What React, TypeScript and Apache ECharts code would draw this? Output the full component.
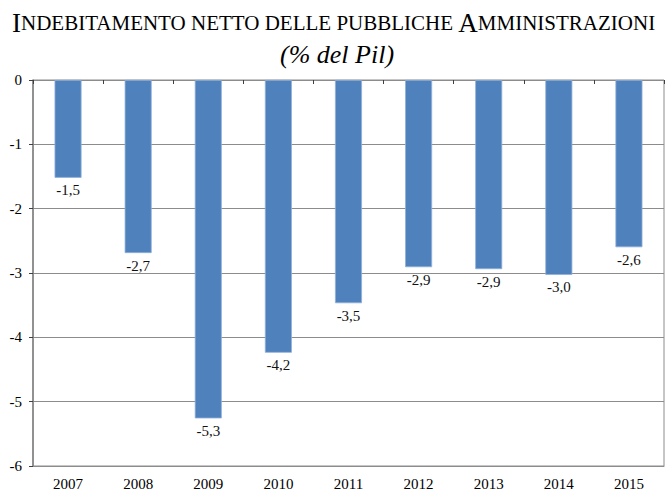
import React, { useEffect, useRef } from "react";
import * as echarts from "echarts";

const years = ["2007", "2008", "2009", "2010", "2011", "2012", "2013", "2014", "2015"];
const deficit = [-1.52, -2.69, -5.26, -4.24, -3.47, -2.91, -2.94, -3.03, -2.6];
const yTicks = { min: -6, max: 0, interval: 1 };

const SERIF = "Times New Roman, Liberation Serif, serif";

export default function App() {
  const ref = useRef<HTMLDivElement>(null);
  useEffect(() => {
    if (!ref.current) return;
    const chart = echarts.init(ref.current, null, { renderer: "svg" });
    chart.setOption({
      animation: false,
      backgroundColor: "#ffffff",
      textStyle: { fontFamily: SERIF },
      title: [
        {
          left: 12,
          top: 9,
          padding: 0,
          text: "{b|I}{s|NDEBITAMENTO NETTO DELLE PUBBLICHE }{b|A}{s|MMINISTRAZIONI}",
          textStyle: {
            fontFamily: SERIF,
            rich: {
              b: { fontFamily: SERIF, fontSize: 27, color: "#000", fontWeight: "normal" },
              s: { fontFamily: SERIF, fontSize: 21, color: "#000", fontWeight: "normal" },
            },
          },
        },
        {
          left: 280,
          top: 41,
          padding: 0,
          text: "(% del Pil)",
          textStyle: {
            fontFamily: SERIF,
            fontSize: 26,
            color: "#000",
            fontStyle: "italic",
            fontWeight: "normal",
          },
        },
      ],
      grid: {
        left: 33,
        right: 3,
        top: 80,
        bottom: 25,
        show: true,
        borderColor: "#8c8c8c",
        borderWidth: 1,
        backgroundColor: "transparent",
      },
      xAxis: [
        {
          type: "category",
          data: years,
          position: "bottom",
          axisLine: { onZero: false, show: true, lineStyle: { color: "#8c8c8c", width: 1 } },
          axisTick: { show: false },
          axisLabel: { fontFamily: SERIF, fontSize: 15, color: "#000", margin: 10 },
        },
        {
          type: "category",
          data: years,
          position: "top",
          axisLine: { onZero: false, show: true, lineStyle: { color: "#8c8c8c", width: 1 } },
          axisTick: { show: true, inside: true, length: 4, lineStyle: { color: "#404040" } },
          axisLabel: { show: false },
        },
      ],
      yAxis: {
        type: "value",
        min: yTicks.min,
        max: yTicks.max,
        interval: yTicks.interval,
        axisLine: { show: true, lineStyle: { color: "#7f7f7f", width: 1.5 } },
        axisTick: { show: true, length: 4, lineStyle: { color: "#404040" } },
        axisLabel: { fontFamily: SERIF, fontSize: 15, color: "#000", margin: 11 },
        splitLine: { show: true, lineStyle: { color: "#8c8c8c", width: 1 } },
      },
      series: [
        {
          type: "bar",
          data: deficit,
          barWidth: 27,
          itemStyle: { color: "#4f81bd", borderColor: "#8fb0d9", borderWidth: 0.8 },
          label: {
            show: true,
            position: "bottom",
            distance: 5,
            fontFamily: SERIF,
            fontSize: 15,
            color: "#111",
            formatter: (p: any) => Number(p.value).toFixed(1).replace(".", ","),
          },
        },
      ],
    });
    return () => chart.dispose();
  }, []);
  return <div ref={ref} style={{ width: 667, height: 491, position: "fixed", left: 0, top: 0 }} />;
}
